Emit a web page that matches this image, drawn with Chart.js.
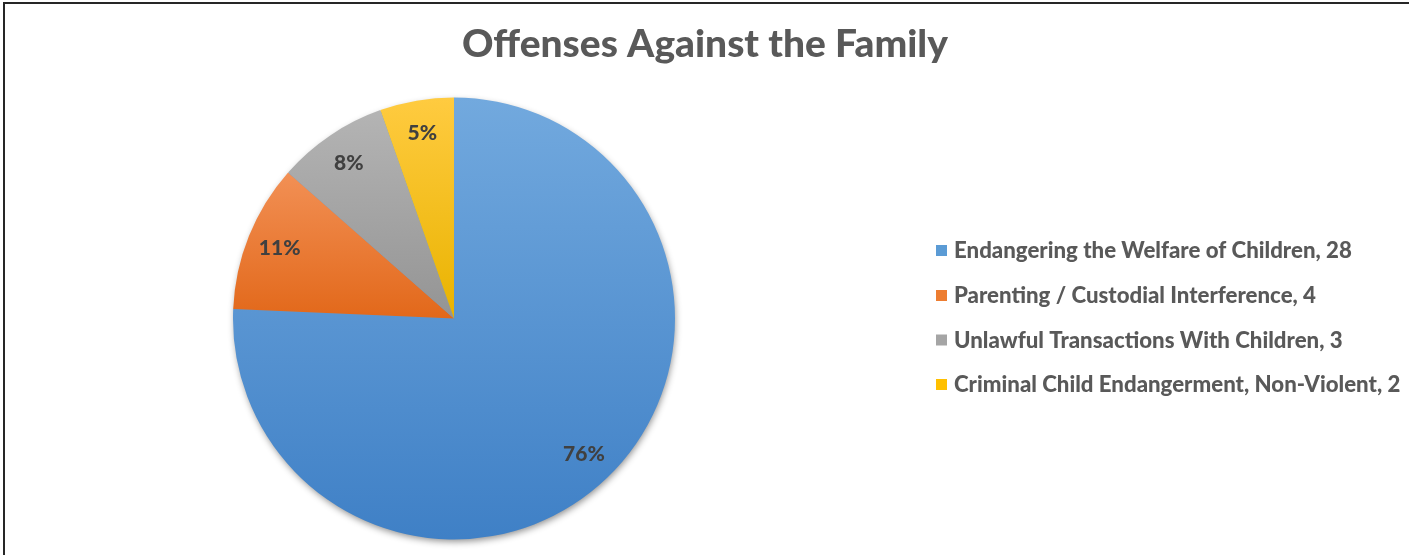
<!DOCTYPE html>
<html><head><meta charset="utf-8">
<script src="https://cdn.jsdelivr.net/npm/chart.js@4.4.1/dist/chart.umd.min.js"></script>
<style>html,body{margin:0;padding:0;background:#fff;overflow:hidden}#wrap{width:1409px;height:555px;position:relative}canvas{display:block}</style>
</head><body><div id="wrap"><canvas id="c" width="1409" height="555"></canvas></div>
<script>
const chartTitle = "Offenses Against the Family";
const categories = [
  "Endangering the Welfare of Children",
  "Parenting / Custodial Interference",
  "Unlawful Transactions With Children",
  "Criminal Child Endangerment, Non-Violent"
];
const values = [28, 4, 3, 2];
const legendColors = ["#5b9bd5", "#ed7d31", "#a5a5a5", "#ffc000"];
const topColors = ["#72a9de", "#f29055", "#b4b4b4", "#ffcb40"];
const bottomColors = ["#3f80c6", "#e2681a", "#949494", "#e9b300"];

const total = values.reduce((a, b) => a + b, 0);
const percentLabels = values.map(v => Math.round(v / total * 100) + "%");
const legendLabels = categories.map((c, i) => c + ", " + values[i]);

const FONT = "Lato, 'Open Sans', 'DejaVu Sans', sans-serif";
const WEIGHT = "900";

function fitFont(ctx, text, targetWidth, baseSize) {
  ctx.font = WEIGHT + " " + baseSize + "px " + FONT;
  const w = ctx.measureText(text).width;
  return baseSize * targetWidth / w;
}

function angleIn(a, s, e) {
  const twoPi = Math.PI * 2;
  let x = a;
  while (x < s) x += twoPi;
  return x <= e;
}

const deco = {
  id: 'deco',
  beforeDatasetsDraw(chart) {
    const ctx = chart.ctx;
    const arcs = chart.getDatasetMeta(0).data;
    if (!arcs.length) return;
    const cx = arcs[0].x, cy = arcs[0].y, r = arcs[0].outerRadius;
    ctx.save();
    ctx.shadowColor = "rgba(0,0,0,0.45)";
    ctx.shadowBlur = 7;
    ctx.shadowOffsetX = 1;
    ctx.shadowOffsetY = 3;
    ctx.fillStyle = "#5b9bd5";
    ctx.beginPath();
    ctx.arc(cx, cy, r - 1, 0, Math.PI * 2);
    ctx.fill();
    ctx.restore();
    arcs.forEach((el, i) => {
      const s = el.startAngle, e = el.endAngle;
      const ys = [cy, cy + r * Math.sin(s), cy + r * Math.sin(e)];
      if (angleIn(-Math.PI / 2, s, e)) ys.push(cy - r);
      if (angleIn(Math.PI / 2, s, e)) ys.push(cy + r);
      const y0 = Math.min(...ys), y1 = Math.max(...ys);
      const g = ctx.createLinearGradient(0, y0, 0, y1);
      g.addColorStop(0, topColors[i]);
      g.addColorStop(1, bottomColors[i]);
      el.options.backgroundColor = g;
    });
  },
  afterDatasetsDraw(chart) {
    const ctx = chart.ctx;
    const arcs = chart.getDatasetMeta(0).data;
    ctx.save();
    ctx.fillStyle = "#404040";
    ctx.font = WEIGHT + " 21px " + FONT;
    ctx.textAlign = "center";
    ctx.textBaseline = "middle";
    arcs.forEach((el, i) => {
      const mid = (el.startAngle + el.endAngle) / 2;
      const d = el.outerRadius * 0.85;
      ctx.fillText(percentLabels[i], el.x + d * Math.cos(mid), el.y + d * Math.sin(mid));
    });
    ctx.restore();
  },
  afterDraw(chart) {
    const ctx = chart.ctx;
    ctx.save();
    const ts = fitFont(ctx, chartTitle, 486, 36);
    ctx.font = WEIGHT + " " + ts + "px " + FONT;
    ctx.fillStyle = "#595959";
    ctx.textAlign = "center";
    ctx.textBaseline = "alphabetic";
    ctx.fillText(chartTitle, 705, 57);
    const ls = fitFont(ctx, legendLabels[0], 398, 20);
    ctx.font = WEIGHT + " " + ls + "px " + FONT;
    ctx.textAlign = "left";
    ctx.textBaseline = "middle";
    const rowY = [250, 295, 339.5, 384];
    legendLabels.forEach((t, i) => {
      ctx.fillStyle = legendColors[i];
      ctx.fillRect(936, rowY[i] - 5, 11, 11);
      ctx.fillStyle = "#595959";
      ctx.fillText(t, 954, rowY[i] + 1);
    });
    ctx.fillStyle = "#262626";
    ctx.fillRect(3, 2, 2, 553);
    ctx.fillRect(3, 2, 1406, 2);
    ctx.restore();
  }
};

new Chart(document.getElementById('c'), {
  type: 'pie',
  data: {
    labels: categories,
    datasets: [{
      data: values,
      backgroundColor: legendColors,
      borderWidth: 0
    }]
  },
  options: {
    responsive: false,
    animation: false,
    layout: { padding: { left: 233, right: 734, top: 97, bottom: 15 } },
    plugins: { legend: { display: false }, tooltip: { enabled: false }, title: { display: false } }
  },
  plugins: [deco]
});
</script></body></html>
